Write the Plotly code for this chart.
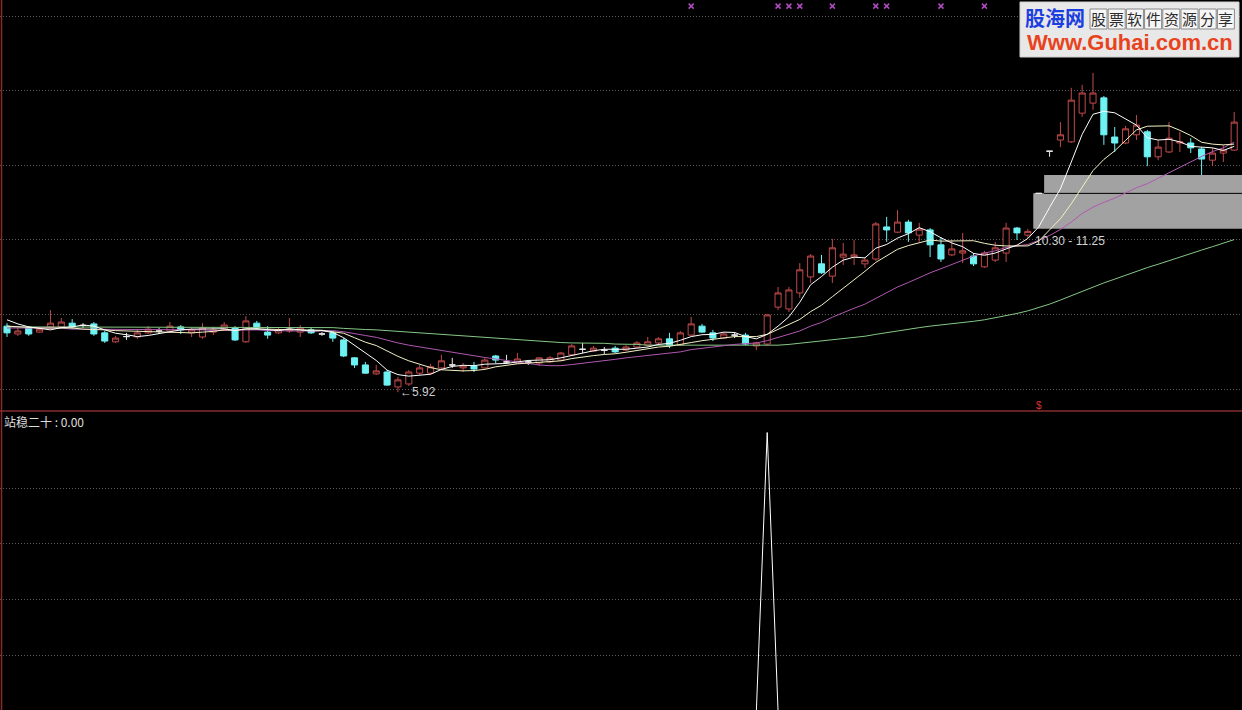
import plotly.graph_objects as go

# ---- daily bars -------------------------------------------------------------
day = list(range(114))

open_ = [
    7.69, 7.48, 7.64, 7.53, 7.67, 7.67, 7.77, 7.71, 7.75, 7.51,
    7.27, 7.41, 7.40, 7.51, 7.56, 7.56, 7.67, 7.51, 7.40, 7.53,
    7.61, 7.64, 7.27, 7.77, 7.53, 7.51, 7.56, 7.53, 7.59, 7.48,
    7.51, 7.32, 6.84, 6.65, 6.41, 6.46, 6.06, 6.14, 6.43, 6.43,
    6.57, 6.65, 6.57, 6.62, 6.57, 6.89, 6.73, 6.70, 6.73, 6.70,
    6.73, 6.78, 6.92, 7.07, 7.02, 7.04, 7.10, 7.05, 7.13, 7.18,
    7.24, 7.35, 7.18, 7.45, 7.69, 7.51, 7.37, 7.45, 7.45, 7.16,
    7.21, 8.20, 8.15, 8.58, 9.01, 9.36, 9.03, 9.54, 9.54, 9.36,
    9.49, 10.35, 10.21, 10.48, 10.13, 10.27, 9.87, 9.60, 9.65, 9.57,
    9.28, 9.46, 9.65, 10.32, 10.13, 11.25, 12.38, 12.68, 12.63, 13.40,
    13.67, 13.81, 12.76, 12.60, 12.82, 12.90, 12.23, 12.36, 12.60, 12.60,
    12.44, 12.14, 12.33, 12.41,
]
high = [
    7.77, 7.64, 7.69, 7.67, 8.12, 7.91, 7.88, 7.77, 7.80, 7.56,
    7.43, 7.51, 7.59, 7.69, 7.64, 7.80, 7.72, 7.64, 7.77, 7.67,
    7.80, 7.69, 7.96, 7.83, 7.69, 7.64, 7.91, 7.72, 7.64, 7.53,
    7.56, 7.37, 6.86, 6.73, 6.65, 6.51, 6.33, 6.51, 6.65, 6.68,
    6.92, 6.84, 6.70, 6.73, 6.84, 6.92, 6.92, 6.97, 6.78, 6.86,
    6.89, 7.00, 7.21, 7.24, 7.16, 7.13, 7.16, 7.18, 7.29, 7.40,
    7.40, 7.51, 7.56, 7.94, 7.75, 7.59, 7.53, 7.53, 7.51, 7.27,
    8.02, 8.74, 8.74, 9.38, 9.62, 9.60, 10.03, 9.92, 10.00, 9.52,
    10.48, 10.62, 10.80, 10.54, 10.46, 10.32, 10.08, 10.00, 10.19, 9.65,
    9.71, 9.95, 10.46, 10.35, 10.30, 11.25, 12.38, 13.16, 14.08, 14.16,
    14.48, 13.86, 13.03, 13.06, 13.35, 12.95, 12.68, 13.16, 12.90, 12.73,
    12.49, 12.47, 12.55, 13.43,
]
low = [
    7.40, 7.43, 7.43, 7.51, 7.59, 7.64, 7.61, 7.64, 7.43, 7.24,
    7.24, 7.32, 7.35, 7.48, 7.48, 7.51, 7.48, 7.40, 7.35, 7.45,
    7.56, 7.29, 7.24, 7.59, 7.35, 7.48, 7.51, 7.40, 7.48, 7.43,
    7.27, 6.86, 6.57, 6.41, 6.38, 6.09, 5.92, 6.09, 6.38, 6.38,
    6.52, 6.57, 6.46, 6.46, 6.54, 6.70, 6.68, 6.68, 6.65, 6.62,
    6.70, 6.76, 6.89, 6.97, 7.00, 6.94, 6.97, 7.02, 7.10, 7.13,
    7.18, 7.10, 7.16, 7.43, 7.51, 7.29, 7.35, 7.37, 7.18, 7.05,
    7.18, 8.12, 8.07, 8.45, 8.85, 9.09, 8.85, 9.33, 9.33, 9.25,
    9.44, 9.95, 10.19, 9.95, 9.95, 9.54, 9.41, 9.57, 9.38, 9.30,
    9.25, 9.41, 9.41, 10.00, 10.05, 11.25, 12.23, 12.49, 12.60, 13.30,
    13.49, 12.55, 12.36, 12.57, 12.68, 11.98, 12.14, 12.33, 12.36, 12.33,
    11.74, 11.98, 12.09, 12.39,
]
close = [
    7.51, 7.56, 7.48, 7.61, 7.77, 7.80, 7.67, 7.71, 7.48, 7.29,
    7.37, 7.41, 7.51, 7.61, 7.56, 7.69, 7.59, 7.59, 7.64, 7.59,
    7.72, 7.32, 7.83, 7.64, 7.45, 7.59, 7.61, 7.64, 7.51, 7.48,
    7.37, 6.89, 6.65, 6.43, 6.49, 6.11, 6.25, 6.46, 6.57, 6.60,
    6.76, 6.65, 6.62, 6.54, 6.78, 6.78, 6.73, 6.81, 6.73, 6.84,
    6.84, 6.97, 7.16, 7.07, 7.10, 7.04, 7.00, 7.13, 7.24, 7.27,
    7.35, 7.18, 7.51, 7.75, 7.53, 7.37, 7.48, 7.45, 7.21, 7.24,
    7.99, 8.58, 8.66, 9.20, 9.57, 9.12, 9.79, 9.62, 9.60, 9.46,
    10.43, 10.27, 10.48, 10.19, 10.29, 9.87, 9.49, 9.76, 9.71, 9.36,
    9.65, 9.79, 10.32, 10.19, 10.23, 11.25, 12.38, 12.82, 13.75, 13.94,
    13.94, 12.82, 12.60, 12.98, 13.08, 12.23, 12.49, 12.73, 12.63, 12.47,
    12.17, 12.33, 12.41, 13.16,
]

# ---- moving averages --------------------------------------------------------
ma5 = [
    7.86, 7.75, 7.67, 7.64, 7.59, 7.65, 7.67, 7.72, 7.69, 7.59,
    7.50, 7.46, 7.41, 7.44, 7.49, 7.56, 7.59, 7.61, 7.61, 7.62,
    7.62, 7.57, 7.62, 7.62, 7.59, 7.57, 7.62, 7.59, 7.56, 7.57,
    7.52, 7.38, 7.18, 6.97, 6.77, 6.51, 6.39, 6.35, 6.38, 6.40,
    6.53, 6.61, 6.64, 6.63, 6.67, 6.68, 6.69, 6.73, 6.77, 6.78,
    6.79, 6.84, 6.91, 6.97, 7.03, 7.07, 7.07, 7.07, 7.10, 7.13,
    7.20, 7.23, 7.31, 7.41, 7.46, 7.47, 7.53, 7.52, 7.41, 7.35,
    7.47, 7.69, 7.94, 8.33, 8.80, 9.02, 9.27, 9.46, 9.54, 9.52,
    9.78, 9.88, 10.05, 10.17, 10.33, 10.22, 10.06, 9.92, 9.82, 9.64,
    9.59, 9.65, 9.76, 9.86, 10.04, 10.35, 10.87, 11.37, 12.09, 12.83,
    13.37, 13.45, 13.41, 13.25, 13.08, 12.74, 12.68, 12.70, 12.63, 12.51,
    12.50, 12.47, 12.40, 12.51,
]
ma10 = [
    7.69, 7.67, 7.67, 7.64, 7.64, 7.64, 7.64, 7.61, 7.61, 7.59,
    7.57, 7.56, 7.56, 7.56, 7.54, 7.53, 7.52, 7.51, 7.53, 7.55,
    7.59, 7.58, 7.61, 7.62, 7.61, 7.60, 7.60, 7.60, 7.59, 7.58,
    7.54, 7.50, 7.38, 7.26, 7.17, 7.02, 6.88, 6.76, 6.67, 6.58,
    6.52, 6.50, 6.49, 6.50, 6.53, 6.60, 6.65, 6.68, 6.70, 6.72,
    6.73, 6.76, 6.82, 6.87, 6.90, 6.93, 6.95, 6.99, 7.04, 7.08,
    7.13, 7.15, 7.19, 7.25, 7.30, 7.33, 7.38, 7.41, 7.41, 7.41,
    7.47, 7.61, 7.73, 7.87, 8.08, 8.25, 8.48, 8.70, 8.94, 9.16,
    9.40, 9.57, 9.75, 9.85, 9.92, 10.00, 9.97, 9.98, 9.99, 9.98,
    9.91, 9.86, 9.84, 9.84, 9.84, 9.97, 10.26, 10.57, 10.97, 11.43,
    11.86, 12.16, 12.39, 12.67, 12.95, 13.05, 13.06, 13.06, 12.94, 12.80,
    12.62, 12.57, 12.55, 12.57,
]
ma20 = [
    7.64, 7.64, 7.64, 7.64, 7.64, 7.64, 7.61, 7.61, 7.61, 7.61,
    7.61, 7.61, 7.61, 7.59, 7.59, 7.59, 7.59, 7.59, 7.59, 7.57,
    7.58, 7.57, 7.59, 7.59, 7.57, 7.56, 7.56, 7.56, 7.56, 7.57,
    7.57, 7.54, 7.50, 7.44, 7.39, 7.31, 7.24, 7.18, 7.13, 7.08,
    7.03, 7.00, 6.94, 6.88, 6.85, 6.81, 6.77, 6.72, 6.69, 6.65,
    6.63, 6.63, 6.66, 6.69, 6.72, 6.76, 6.80, 6.84, 6.87, 6.90,
    6.93, 6.96, 7.00, 7.06, 7.10, 7.13, 7.17, 7.20, 7.22, 7.24,
    7.30, 7.38, 7.46, 7.56, 7.69, 7.79, 7.93, 8.06, 8.17, 8.28,
    8.44, 8.59, 8.74, 8.86, 9.00, 9.12, 9.23, 9.34, 9.47, 9.57,
    9.65, 9.71, 9.80, 9.85, 9.88, 9.99, 10.12, 10.28, 10.48, 10.71,
    10.88, 11.01, 11.12, 11.26, 11.40, 11.51, 11.66, 11.81, 11.96, 12.11,
    12.24, 12.37, 12.47, 12.62,
]
ma60 = [
    7.67, 7.67, 7.67, 7.67, 7.67, 7.67, 7.67, 7.67, 7.67, 7.67,
    7.67, 7.67, 7.67, 7.67, 7.67, 7.67, 7.67, 7.67, 7.67, 7.67,
    7.67, 7.65, 7.65, 7.65, 7.65, 7.65, 7.65, 7.65, 7.65, 7.65,
    7.65, 7.63, 7.61, 7.60, 7.59, 7.57, 7.56, 7.53, 7.51, 7.48,
    7.47, 7.44, 7.43, 7.40, 7.39, 7.37, 7.35, 7.32, 7.31, 7.29,
    7.27, 7.25, 7.24, 7.24, 7.23, 7.23, 7.21, 7.21, 7.20, 7.18,
    7.18, 7.18, 7.18, 7.18, 7.17, 7.17, 7.16, 7.16, 7.16, 7.16,
    7.17, 7.18, 7.20, 7.23, 7.26, 7.29, 7.32, 7.36, 7.39, 7.42,
    7.47, 7.52, 7.56, 7.60, 7.65, 7.69, 7.72, 7.75, 7.79, 7.82,
    7.86, 7.91, 7.97, 8.03, 8.10, 8.18, 8.28, 8.39, 8.51, 8.63,
    8.75, 8.85, 8.95, 9.06, 9.17, 9.26, 9.35, 9.45, 9.55, 9.64,
    9.73, 9.82, 9.91, 10.01,
]

# ---- marks, gaps and the lower indicator ------------------------------------
signal_days = [63, 71, 72, 73, 76, 80, 81, 86, 90]      # magenta crosses on top
low_day, low_price = 36, 5.92
gap_low = (94, 10.30, 11.25)      # (day before the gap, bottom, top)
gap_high = (95, 11.25, 11.74)
mark_day = 95                     # red "$" sign above the separator
indicator_name = "站稳二十"
indicator = [0] * 114
indicator[70] = 1

# ---- colours ----------------------------------------------------------------
BG = "#000000"
RED = "#c04a4a"
CYAN = "#6ef2f4"
GRID = "#5e5a5a"
BORDER = "#862c2c"

W, H = 1242, 710
SPLIT = 411                       # pixel row of the panel separator
x_lo, x_hi = -0.645, 113.72
p_lo, p_hi = 5.415, 16.434        # price range of the upper panel

up = [i for i in day if close[i] > open_[i]]
dn = [i for i in day if close[i] < open_[i]]
flat = [i for i in day if close[i] == open_[i]]


def pick(seq, ids):
    return [seq[i] for i in ids]


def candles(ids, line_col, fill_col):
    return go.Candlestick(
        x=ids, open=pick(open_, ids), high=pick(high, ids),
        low=pick(low, ids), close=pick(close, ids),
        increasing=dict(line=dict(color=line_col, width=1), fillcolor=fill_col),
        decreasing=dict(line=dict(color=line_col, width=1), fillcolor=fill_col),
        whiskerwidth=0, showlegend=False, hoverinfo="skip",
        xaxis="x", yaxis="y",
    )


fig = go.Figure()
fig.add_trace(candles(up, RED, BG))
fig.add_trace(candles(dn, CYAN, CYAN))
fig.add_trace(candles(flat, "#e8e8e8", "#e8e8e8"))

for vals, col in ((ma60, "#86c886"), (ma20, "#b058b0"),
                  (ma10, "#f4f2c4"), (ma5, "#ffffff")):
    fig.add_trace(go.Scatter(x=day, y=vals, mode="lines",
                             line=dict(color=col, width=1),
                             showlegend=False, hoverinfo="skip",
                             xaxis="x", yaxis="y"))

fig.add_trace(go.Scatter(x=signal_days, y=[16.27] * len(signal_days),
                         mode="markers",
                         marker=dict(symbol="x-thin", size=5,
                                     line=dict(color="#b04cc0", width=1.5)),
                         showlegend=False, hoverinfo="skip",
                         xaxis="x", yaxis="y"))

# the zero level sits just under the bottom edge, so only the spike shows
fig.add_trace(go.Scatter(x=day, y=indicator, mode="lines",
                         line=dict(color="#ffffff", width=1),
                         showlegend=False, hoverinfo="skip",
                         xaxis="x2", yaxis="y2"))

# ---- gap boxes --------------------------------------------------------------
shapes = []
for d, lo_p, hi_p in (gap_low, gap_high):
    shapes.append(dict(type="rect", xref="x", yref="y",
                       x0=d + 0.5, x1=x_hi + 1, y0=lo_p, y1=hi_p,
                       fillcolor="#a2a2a2", line=dict(width=0),
                       layer="between"))
shapes.append(dict(type="line", xref="x", yref="y",
                   x0=gap_high[0] + 0.5, x1=x_hi + 1,
                   y0=gap_high[1], y1=gap_high[1],
                   line=dict(color="#000000", width=1), layer="between"))

# panel frame
split_y = 1 - SPLIT / H
shapes.append(dict(type="line", xref="paper", yref="paper",
                   x0=0, x1=1, y0=split_y, y1=split_y,
                   line=dict(color=BORDER, width=1.5)))
shapes.append(dict(type="line", xref="paper", yref="paper",
                   x0=1.5 / W, x1=1.5 / W, y0=0, y1=1,
                   line=dict(color=BORDER, width=1.5)))

# watermark badge
shapes.append(dict(type="rect", xref="paper", yref="paper",
                   x0=1020 / W, x1=1239 / W, y0=1 - 57 / H, y1=1 - 2 / H,
                   fillcolor="#e8e8e8", line=dict(color="#cfcfcf", width=1)))
slogan = "股票软件资源分享"
for k in range(len(slogan)):
    x0 = 1090 + 18.2 * k
    shapes.append(dict(type="rect", xref="paper", yref="paper",
                       x0=x0 / W, x1=(x0 + 17) / W,
                       y0=1 - 29 / H, y1=1 - 9 / H,
                       fillcolor="#f6f6f6",
                       line=dict(color="#8a8a8a", width=1)))

annotations = [
    dict(x=low_day, y=low_price, xref="x", yref="y", text="←5.92",
         showarrow=False, xanchor="left", yanchor="middle",
         font=dict(family="Liberation Sans, Arial", size=12, color="#cfcfcf")),
    dict(x=gap_low[0] + 0.45, y=gap_low[1], xref="x", yref="y",
         text=f"{gap_low[1]:.2f} - {gap_low[2]:.2f}",
         showarrow=False, xanchor="left", yanchor="top", yshift=-3,
         font=dict(family="Liberation Sans, Arial", size=12, color="#d4d4d4")),
    dict(x=mark_day, y=5.56, xref="x", yref="y", text="$",
         showarrow=False, xanchor="center", yanchor="middle",
         font=dict(family="Liberation Sans, Arial", size=10, color="#d83434")),
    dict(x=2 / W, y=1 - 421 / H, xref="paper", yref="paper",
         text=f"{indicator_name} : {indicator[-1]:.2f}",
         showarrow=False, xanchor="left", yanchor="middle",
         font=dict(family="Noto Sans CJK SC", size=12, color="#dedede")),
    dict(x=1023 / W, y=1 - 18 / H, xref="paper", yref="paper",
         text="<b>股海网</b>", showarrow=False, xanchor="left", yanchor="middle",
         font=dict(family="Noto Sans CJK SC", size=20, color="#1c3fe0")),
    dict(x=1130 / W, y=1 - 42 / H, xref="paper", yref="paper",
         text="<b>Www.Guhai.com.cn</b>", showarrow=False,
         xanchor="center", yanchor="middle",
         font=dict(family="Liberation Sans, Arial", size=22, color="#e8431c")),
]
for k, ch in enumerate(slogan):
    annotations.append(dict(x=(1090 + 18.2 * k + 8.5) / W, y=1 - 19 / H,
                            xref="paper", yref="paper", text=ch,
                            showarrow=False, xanchor="center", yanchor="middle",
                            font=dict(family="Noto Sans CJK SC", size=15,
                                      color="#2c2c2c")))

axis_common = dict(showticklabels=False, ticks="", zeroline=False,
                   showline=False)
fig.update_layout(
    width=W, height=H, margin=dict(l=0, r=0, t=0, b=0),
    paper_bgcolor=BG, plot_bgcolor=BG, boxgap=0.2,
    hovermode=False, showlegend=False,
    xaxis=dict(domain=[0, 1], range=[x_lo, x_hi], showgrid=False,
               rangeslider=dict(visible=False), anchor="y", **axis_common),
    xaxis2=dict(domain=[0, 1], range=[x_lo, x_hi], showgrid=False,
                matches="x", anchor="y2", **axis_common),
    yaxis=dict(domain=[split_y, 1], range=[p_lo, p_hi],
               tickvals=[6, 8, 10, 12, 14, 16], showgrid=True,
               gridcolor=GRID, gridwidth=1, griddash="1px,2px",
               anchor="x", **axis_common),
    yaxis2=dict(domain=[0, split_y], range=[0.004, 1.0773],
                tickvals=[0.2, 0.4, 0.6, 0.8], showgrid=True,
                gridcolor=GRID, gridwidth=1, griddash="1px,2px",
                anchor="x2", **axis_common),
    shapes=shapes, annotations=annotations,
)

fig.write_html("out.html")
